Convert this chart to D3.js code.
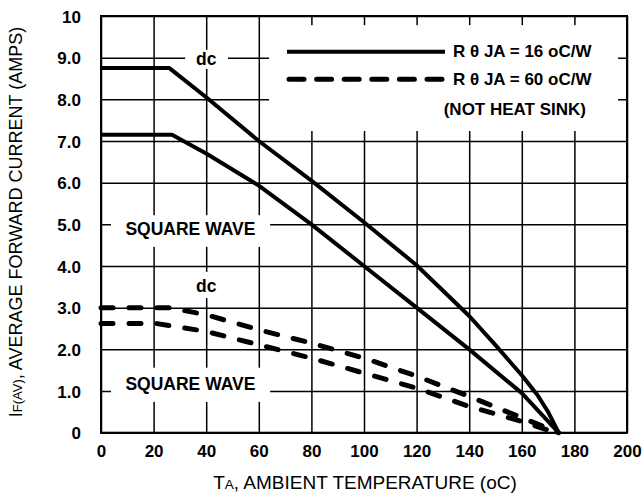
<!DOCTYPE html>
<html lang="en">
<head>
  <meta charset="utf-8">
  <title>Forward current derating</title>
  <script src="https://d3js.org/d3.v7.min.js"></script>
  <style>
    body { margin: 0; background: #fff; }
    text { font-family: "Liberation Sans", Arial, sans-serif; fill: #000; }
  </style>
</head>
<body>
<script type="text/javascript">

var svg_width = 643;
var svg_height = 496;

// axis ticks
var xTicks = [0, 20, 40, 60, 80, 100, 120, 140, 160, 180, 200];
var yTicks = [0, 1, 2, 3, 4, 5, 6, 7, 8, 9, 10];
var yTickLabels = ["0", "1.0", "2.0", "3.0", "4.0", "5.0", "6.0", "7.0", "8.0", "9.0", "10"];

// R theta JA = 16 C/W, dc
var dcSinkT = [0, 26, 40, 60, 80, 100, 120, 140, 150, 160, 166, 170, 174];
var dcSinkI = [8.75, 8.75, 8.05, 7.0, 6.05, 5.05, 4.02, 2.8, 2.1, 1.38, 0.9, 0.5, 0];

// R theta JA = 16 C/W, square wave
var sqSinkT = [0, 27, 40, 60, 80, 100, 120, 140, 160, 174];
var sqSinkI = [7.15, 7.15, 6.7, 5.93, 5.0, 4.0, 3.0, 2.0, 0.95, 0];

// R theta JA = 60 C/W, dc
var dcAirT = [0, 26, 40, 60, 80, 100, 120, 140, 160, 174];
var dcAirI = [3.0, 3.0, 2.83, 2.47, 2.15, 1.79, 1.36, 0.87, 0.36, 0];

// R theta JA = 60 C/W, square wave
var sqAirT = [0, 21, 40, 60, 80, 100, 120, 140, 160, 173];
var sqAirI = [2.62, 2.62, 2.43, 2.11, 1.79, 1.43, 1.07, 0.63, 0.27, 0];

var plotLeft = 101, plotRight = 627, plotTop = 16, plotBottom = 432.7;

var x = d3.scaleLinear().domain([0, 200]).range([plotLeft, plotRight]);
var y = d3.scaleLinear().domain([0, 10]).range([plotBottom, plotTop]);

var svg = d3.select("body")
			.append("svg")
			.attr("width", svg_width)
			.attr("height", svg_height);

// grid
svg.append("g")
   .attr("transform", "translate(0," + plotBottom + ")")
   .call(d3.axisBottom(x).tickValues(xTicks).tickSize(-(plotBottom - plotTop)).tickFormat(""))
   .call(function(g) { g.select(".domain").remove(); })
   .selectAll("line").attr("stroke", "#000").attr("stroke-width", 1.5);

svg.append("g")
   .attr("transform", "translate(" + plotLeft + ",0)")
   .call(d3.axisLeft(y).tickValues(yTicks).tickSize(-(plotRight - plotLeft)).tickFormat(""))
   .call(function(g) { g.select(".domain").remove(); })
   .selectAll("line").attr("stroke", "#000").attr("stroke-width", 1.5);

// white boxes behind the notes
var boxes = [
	[32, 48.3, 9.19, 8.73],
	[63.9, 196.6, 9.78, 7.24],
	[3.8, 64.3, 5.22, 4.46],
	[33.8, 47.1, 3.86, 3.23],
	[3.8, 64.3, 1.56, 0.74]
];
svg.selectAll("rect.box")
   .data(boxes)
   .enter()
	   .append("rect")
	   .attr("class", "box")
	   .attr("x", function(d) { return x(d[0]); })
	   .attr("y", function(d) { return y(d[2]); })
	   .attr("width", function(d) { return x(d[1]) - x(d[0]); })
	   .attr("height", function(d) { return y(d[3]) - y(d[2]); })
	   .attr("fill", "#fff");

// frame
svg.append("rect")
   .attr("x", plotLeft).attr("y", plotTop)
   .attr("width", plotRight - plotLeft).attr("height", plotBottom - plotTop)
   .attr("fill", "none").attr("stroke", "#000").attr("stroke-width", 2);

// tick labels
svg.append("g")
   .attr("transform", "translate(" + (plotLeft - 20) + ",0)")
   .call(d3.axisLeft(y).tickValues(yTicks).tickSize(0)
		.tickFormat(function(d, i) { return yTickLabels[i]; }))
   .call(function(g) { g.select(".domain").remove(); })
   .selectAll("text")
	   .attr("x", 0)
	   .attr("dy", "0.36em")
	   .attr("font-size", "17px")
	   .attr("font-weight", "bold")
	   .attr("font-family", "Liberation Sans, Arial, sans-serif");

svg.append("g")
   .attr("transform", "translate(0," + (plotBottom + 12) + ")")
   .call(d3.axisBottom(x).tickValues(xTicks).tickSize(0).tickFormat(d3.format("d")))
   .call(function(g) { g.select(".domain").remove(); })
   .selectAll("text")
	   .attr("y", 0)
	   .attr("dy", "0.71em")
	   .attr("font-size", "17px")
	   .attr("font-weight", "bold")
	   .attr("font-family", "Liberation Sans, Arial, sans-serif");

// curves
var line = d3.line()
	.x(function(d) { return x(d[0]); })
	.y(function(d) { return y(d[1]); });

function pairs(t, v) {
	return t.map(function(d, i) { return [d, v[i]]; });
}

var curves = [
	{ pts: pairs(dcSinkT, dcSinkI), dash: null },
	{ pts: pairs(sqSinkT, sqSinkI), dash: null },
	{ pts: pairs(dcAirT, dcAirI), dash: "12,16" },
	{ pts: pairs(sqAirT, sqAirI), dash: "12,16" }
];

svg.selectAll("path.curve")
   .data(curves)
   .enter()
	   .append("path")
	   .attr("class", "curve")
	   .attr("d", function(d) { return line(d.pts); })
	   .attr("fill", "none")
	   .attr("stroke", "#000")
	   .attr("stroke-width", function(d) { return d.dash ? 5 : 4; })
	   .attr("stroke-linecap", function(d) { return d.dash ? "round" : "butt"; })
	   .attr("stroke-linejoin", "round")
	   .attr("stroke-dasharray", function(d) { return d.dash; });

// notes
var notes = [
	["dc", 40, 8.82],
	["SQUARE WAVE", 34, 4.75],
	["dc", 40, 3.38],
	["SQUARE WAVE", 34, 1.02]
];
svg.selectAll("text.note")
   .data(notes)
   .enter()
	   .append("text")
	   .attr("class", "note")
	   .text(function(d) { return d[0]; })
	   .attr("x", function(d) { return x(d[1]); })
	   .attr("y", function(d) { return y(d[2]); })
	   .attr("text-anchor", "middle")
	   .attr("font-size", "17.5px")
	   .attr("font-weight", "bold");

// legend
svg.append("line")
   .attr("x1", 287).attr("x2", 445).attr("y1", 51.7).attr("y2", 51.7)
   .attr("stroke", "#000").attr("stroke-width", 4);
svg.append("line")
   .attr("x1", 289).attr("x2", 445).attr("y1", 79.3).attr("y2", 79.3)
   .attr("stroke", "#000").attr("stroke-width", 5)
   .attr("stroke-linecap", "round").attr("stroke-dasharray", "15,12.6");

function legendText(yPos, val) {
	svg.append("text")
		.attr("x", 453).attr("y", yPos)
		.attr("font-size", "17px").attr("font-weight", "bold")
		.text("R \u03B8 JA = " + val + " oC/W");
}
legendText(56.5, 16);
legendText(85, 60);

svg.append("text")
   .attr("x", 586).attr("y", 115)
   .attr("text-anchor", "end")
   .attr("font-size", "17px").attr("font-weight", "bold")
   .text("(NOT HEAT SINK)");

// axis titles
var xt = svg.append("text")
	.attr("x", 365).attr("y", 489)
	.attr("text-anchor", "middle")
	.attr("font-size", "19px");
xt.append("tspan").text("T");
xt.append("tspan").text("A").attr("font-size", "13.5px");
xt.append("tspan").text(", AMBIENT TEMPERATURE (oC)");

var yt = svg.append("text")
	.attr("transform", "translate(22,222) rotate(-90)")
	.attr("text-anchor", "middle")
	.attr("font-size", "18px");
yt.append("tspan").text("I");
yt.append("tspan").text("F(AV)").attr("font-size", "13px");
yt.append("tspan").text(", AVERAGE FORWARD CURRENT (AMPS)");

</script>
</body>
</html>
